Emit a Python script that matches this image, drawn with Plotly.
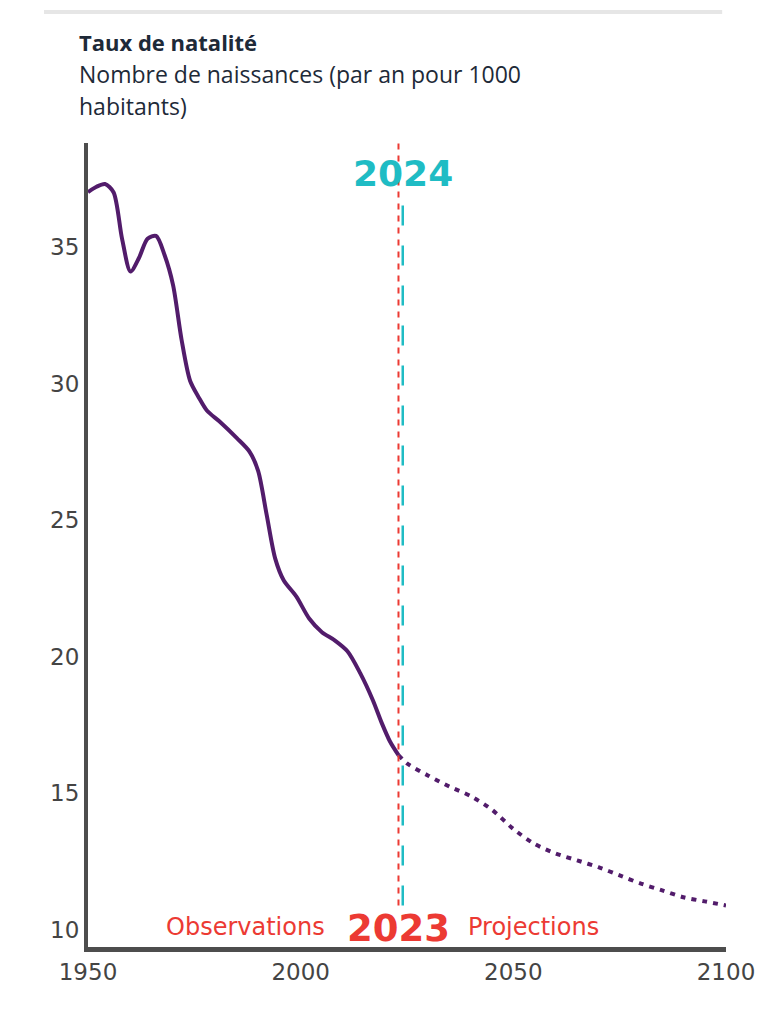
import plotly.graph_objects as go

# observed birth rate (per 1000 inhabitants)
obs_years = [1950, 1952, 1954, 1956, 1958, 1960, 1962, 1964, 1966, 1968, 1970,
             1972, 1974, 1976, 1978, 1981, 1985, 1988, 1990, 1992, 1994, 1996,
             1999, 2002, 2005, 2008, 2011, 2014, 2017, 2019, 2021, 2023]
obs_rate = [37.0, 37.2, 37.3, 37.0, 35.3, 34.1, 34.6, 35.3, 35.4, 34.7, 33.6,
            31.6, 30.1, 29.5, 29.0, 28.6, 28.0, 27.5, 26.8, 25.2, 23.6, 22.8,
            22.2, 21.4, 20.9, 20.6, 20.2, 19.4, 18.4, 17.6, 16.9, 16.4]

# projections
proj_years = [2023, 2025, 2030, 2035, 2040, 2045, 2050, 2055, 2060, 2065,
              2070, 2075, 2080, 2085, 2090, 2095, 2100]
proj_rate = [16.4, 16.1, 15.65, 15.25, 14.9, 14.4, 13.7, 13.15, 12.8, 12.55,
             12.3, 12.0, 11.7, 11.45, 11.2, 11.05, 10.9]

x_ticks = [1950, 2000, 2050, 2100]
y_ticks = [10, 15, 20, 25, 30, 35]

PURPLE = "#521c6b"
RED = "#ec3a33"
TEAL = "#1fbcc4"
TITLE = "#1e2a38"

fig = go.Figure()

fig.add_trace(go.Scatter(
    x=obs_years, y=obs_rate, mode="lines",
    line=dict(color=PURPLE, width=4, shape="spline", smoothing=0.8),
    hoverinfo="skip", showlegend=False,
))
fig.add_trace(go.Scatter(
    x=proj_years, y=proj_rate, mode="lines",
    line=dict(color=PURPLE, width=4, shape="spline", smoothing=0.8, dash="5px,6px"),
    hoverinfo="skip", showlegend=False,
))

# 2023 / 2024 markers
fig.add_shape(type="line", xref="x", yref="y", x0=2023, x1=2023, y0=10.9, y1=38.8,
              line=dict(color=RED, width=2, dash="6px,6px"))
fig.add_shape(type="line", xref="x", yref="y", x0=2024, x1=2024, y0=10.9, y1=36.8,
              line=dict(color=TEAL, width=2.5, dash="20px,20px"))

# grey rule on top
fig.add_shape(type="line", xref="paper", yref="paper", x0=-0.069, x1=0.994,
              y0=1.163, y1=1.163, line=dict(color="#e6e6e6", width=4))

annotations = [
    dict(text="<b>Taux de natalité</b>", y=1.1255, size=22),
    dict(text="Nombre de naissances (par an pour 1000", y=1.0855, size=23),
    dict(text="habitants)", y=1.0455, size=23),
]
for a in annotations:
    fig.add_annotation(text=a["text"], xref="paper", yref="paper", x=-0.017, y=a["y"],
                       xanchor="left", yanchor="middle", showarrow=False,
                       font=dict(family="Open Sans", size=a["size"], color=TITLE))

fig.add_annotation(text="<b>2024</b>", x=2024, y=36.85, xref="x", yref="y",
                   xanchor="center", yanchor="bottom", showarrow=False,
                   font=dict(family="DejaVu Sans", size=36, color=TEAL))
fig.add_annotation(text="<b>2023</b>", x=2023, y=10.05, xref="x", yref="y",
                   xanchor="center", yanchor="middle", showarrow=False,
                   font=dict(family="DejaVu Sans", size=37, color=RED))
fig.add_annotation(text="Observations", x=2006.2, y=10.1, xref="x", yref="y",
                   xanchor="right", yanchor="middle", showarrow=False,
                   font=dict(family="DejaVu Sans", size=24, color=RED))
fig.add_annotation(text="Projections", x=2038.9, y=10.1, xref="x", yref="y",
                   xanchor="left", yanchor="middle", showarrow=False,
                   font=dict(family="DejaVu Sans", size=24, color=RED))

fig.update_layout(
    width=750, height=995,
    margin=dict(l=80, r=32, t=135, b=56),
    paper_bgcolor="white", plot_bgcolor="white",
    showlegend=False,
    font=dict(family="DejaVu Sans", size=23, color="#444444"),
    xaxis=dict(range=[1950, 2100], tickvals=x_ticks, showgrid=False, zeroline=False,
               showline=True, linecolor="#4d4d4d", linewidth=5, ticks="",
               automargin=False,
               tickfont=dict(family="DejaVu Sans", size=23, color="#444444")),
    yaxis=dict(range=[9.38, 38.8], tickvals=y_ticks, showgrid=False, zeroline=False,
               showline=True, linecolor="#4d4d4d", linewidth=4, ticks="",
               automargin=False,
               tickfont=dict(family="DejaVu Sans", size=23, color="#444444")),
)

fig.write_html("out.html")
